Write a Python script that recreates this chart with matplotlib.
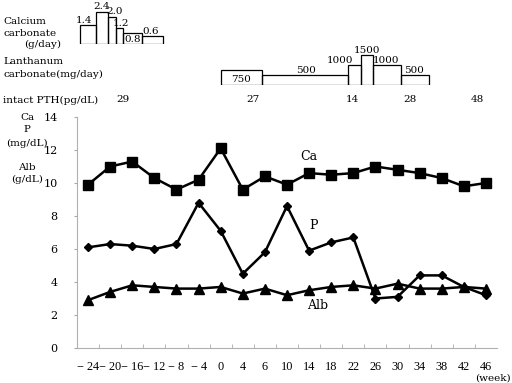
import matplotlib
matplotlib.use("Agg")
import matplotlib.pyplot as plt
from matplotlib.patches import Rectangle
import matplotlib.transforms as mtransforms

weeks = ["− 24", "− 20", "− 16", "− 12", "− 8", "− 4", "0", "4", "6", "10",
         "14", "18", "22", "26", "30", "34", "38", "42", "46"]
ca = [9.9, 11.0, 11.3, 10.3, 9.6, 10.2, 12.1, 9.6, 10.4, 9.9,
      10.6, 10.5, 10.6, 11.0, 10.8, 10.6, 10.3, 9.8, 10.0]
p = [6.1, 6.3, 6.2, 6.0, 6.3, 8.8, 7.1, 4.5, 5.8, 8.6,
     5.9, 6.4, 6.7, 3.0, 3.1, 4.4, 4.4, 3.7, 3.2]
alb = [2.9, 3.4, 3.8, 3.7, 3.6, 3.6, 3.7, 3.3, 3.6, 3.2,
       3.5, 3.7, 3.8, 3.6, 3.9, 3.6, 3.6, 3.7, 3.6]

# Calcium carbonate doses (g/day) and period edges (in week-category index units)
caco3_dose = [1.4, 2.4, 2.0, 1.2, 0.8, 0.6]
caco3_edges = [-0.36, 0.36, 0.9, 1.27, 1.59, 2.45, 3.4]
caco3_labels = ["1.4", "2.4", "2.0", "1.2", "0.8", "0.6"]

# Lanthanum carbonate doses (mg/day)
la_dose = [750, 500, 1000, 1500, 1000, 500]
la_edges = [6.0, 7.89, 11.77, 12.37, 12.9, 14.14, 15.41]
la_labels = ["750", "500", "1000", "1500", "1000", "500"]

# intact PTH values and positions (category index)
pth_vals = ["29", "27", "14", "28", "48"]
pth_pos = [1.59, 7.48, 11.97, 14.55, 17.6]

plt.rcParams["font.family"] = ["DejaVu Serif"]
FS = 7.5
TICKFONT = ["Liberation Serif", "DejaVu Serif"]

W, H = 512, 383
fig = plt.figure(figsize=(W / 100, H / 100), dpi=100)

def fx(px):
    return px / W

def fy(py):
    return 1 - py / H

ax = fig.add_axes([fx(77), fy(348), fx(497) - fx(77), fy(117) - fy(348)])
x = list(range(len(weeks)))
ax.plot(x, ca, color="black", lw=1.8, marker="s", ms=7, zorder=3)
ax.plot(x, p, color="black", lw=1.8, marker="D", ms=4.5, zorder=3)
ax.plot(x, alb, color="black", lw=1.8, marker="^", ms=6.5, zorder=3)
ax.set_xlim(-0.5, len(weeks) - 0.5)
ax.set_ylim(0, 14)
ax.set_yticks([0, 2, 4, 6, 8, 10, 12, 14])
ax.set_xticks(x)
ax.set_xticklabels(weeks, fontsize=8.8, family=TICKFONT)
ax.set_xticks([i + 0.5 for i in range(len(weeks) - 1)], minor=True)
ax.tick_params(axis="x", which="major", length=0, pad=9)
ax.tick_params(axis="x", which="minor", length=3, direction="in", color="#aaaaaa")
ax.tick_params(axis="y", length=2, color="#aaaaaa", labelsize=8, pad=12)
for s in ["top", "right"]:
    ax.spines[s].set_visible(False)
for s in ["left", "bottom"]:
    ax.spines[s].set_color("#b0b0b0")
    ax.spines[s].set_linewidth(0.8)

ax.text(10.0, 11.6, "Ca", fontsize=9, ha="center", va="center")
ax.text(10.2, 7.4, "P", fontsize=9, ha="center", va="center")
ax.text(10.4, 2.55, "Alb", fontsize=9, ha="center", va="center")
fig.text(fx(511), fy(378), "(week)", fontsize=FS, ha="right", va="center")

# y-axis title block
for txt, py in [("Ca", 117), ("P", 130), ("(mg/dL)", 143), ("Alb", 167), ("(g/dL)", 179)]:
    fig.text(fx(27), fy(py), txt, fontsize=FS, ha="center", va="center")

# Calcium carbonate panel
ax_c = fig.add_axes([fx(77), fy(44), fx(497) - fx(77), fy(4) - fy(44)], sharex=ax)
ax_c.set_ylim(0, 3.0)
ax_c.axis("off")
for i, d in enumerate(caco3_dose):
    ax_c.add_patch(Rectangle((caco3_edges[i], 0), caco3_edges[i + 1] - caco3_edges[i], d,
                             fill=False, edgecolor="black", lw=0.9))
c_lab_pos = [(-0.2, 1.45), (0.6, 2.45), (1.2, 2.1), (1.5, 1.2), (2.0, 0.0), (2.85, 0.6)]
for (lx, ly), t in zip(c_lab_pos, caco3_labels):
    ax_c.text(lx, ly, t, fontsize=FS, ha="center", va="bottom")

# Lanthanum carbonate panel
ax_l = fig.add_axes([fx(77), fy(85), fx(497) - fx(77), fy(45) - fy(85)], sharex=ax)
ax_l.set_ylim(0, 2000)
ax_l.axis("off")
for i, d in enumerate(la_dose):
    ax_l.add_patch(Rectangle((la_edges[i], 0), la_edges[i + 1] - la_edges[i], d,
                             fill=False, edgecolor="black", lw=0.9))
l_lab_pos = [(6.9, 30), (9.85, 520), (11.4, 1020), (12.6, 1520), (13.5, 1020), (14.75, 520)]
for (lx, ly), t in zip(l_lab_pos, la_labels):
    ax_l.text(lx, ly, t, fontsize=FS, ha="center", va="bottom")

# left labels
fig.text(fx(3), fy(22), "Calcium", fontsize=FS, ha="left", va="center")
fig.text(fx(3), fy(33), "carbonate", fontsize=FS, ha="left", va="center")
fig.text(fx(24), fy(44), "(g/day)", fontsize=FS, ha="left", va="center")
fig.text(fx(3), fy(61), "Lanthanum", fontsize=FS, ha="left", va="center")
fig.text(fx(3), fy(74), "carbonate(mg/day)", fontsize=FS, ha="left", va="center")
fig.text(fx(3), fy(100), "intact PTH(pg/dL)", fontsize=FS, ha="left", va="center")

trans = mtransforms.blended_transform_factory(ax.transData, fig.transFigure)
for pv, pp in zip(pth_vals, pth_pos):
    ax.text(pp, fy(100), pv, fontsize=FS, ha="center", va="center", transform=trans)

fig.savefig("out.png", dpi=100)
